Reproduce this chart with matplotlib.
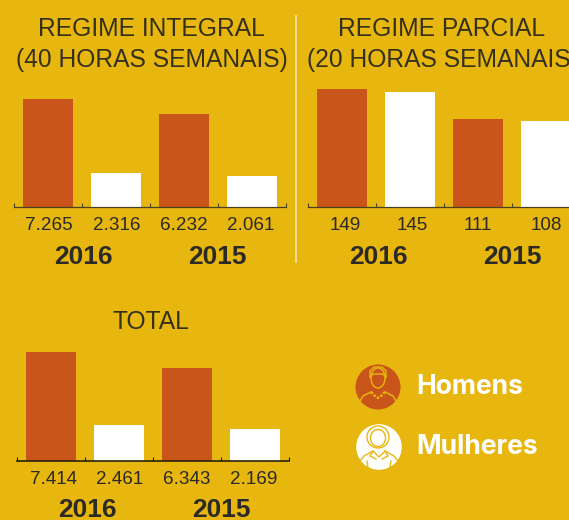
import matplotlib
matplotlib.use('Agg')
import matplotlib.pyplot as plt
from matplotlib.patches import Circle, Ellipse, Polygon

W, H = 569, 520
BG = '#E8B70F'
ORANGE = '#C9551B'
DARK = '#2B2A26'
LINE = '#4a4020'

plt.rcParams['font.family'] = ['Liberation Sans', 'DejaVu Sans']

# values
categories = ['Homens 2016', 'Mulheres 2016', 'Homens 2015', 'Mulheres 2015']
integral_values = [7265, 2316, 6232, 2061]
integral_labels = ['7.265', '2.316', '6.232', '2.061']
parcial_values = [149, 145, 111, 108]
parcial_labels = ['149', '145', '111', '108']
total_values = [7414, 2461, 6343, 2169]
total_labels = ['7.414', '2.461', '6.343', '2.169']
years = ['2016', '2015']
bar_colors = [ORANGE, 'white', ORANGE, 'white']

fig = plt.figure(figsize=(W / 100, H / 100), dpi=100, facecolor=BG)

# page level axes in pixels, for titles, divider and legend
page = fig.add_axes([0, 0, 1, 1])
page.set_xlim(0, W)
page.set_ylim(H, 0)
page.axis('off')


def panel(left, baseline, values, labels, first_px, label_xs, year_xs, label_y, year_y, axis_color, axis_lw):
    # 4 slots of 68 px each, y scale fixed by the height of the first bar
    ax = fig.add_axes([left / W, 1 - baseline / H, 272 / W, first_px / H])
    ax.patch.set_alpha(0)
    ax.bar(range(4), values, width=50 / 68, color=bar_colors, zorder=1)
    ax.set_xlim(-0.5, 3.5)
    ax.set_ylim(0, values[0])
    for s in ['top', 'left', 'right']:
        ax.spines[s].set_visible(False)
    ax.spines['bottom'].set_color(axis_color)
    ax.spines['bottom'].set_linewidth(axis_lw)
    ax.spines['bottom'].set_zorder(3)
    ax.set_yticks([])
    ax.set_xticks([-0.5, 0.5, 1.5, 2.5, 3.5])
    ax.set_xticklabels([])
    ax.tick_params(axis='x', direction='in', length=3, width=0.8, color=axis_color)

    for x, lab in zip(label_xs, labels):
        page.text(x, label_y, lab, ha='center', va='center', fontsize=13.6, color=DARK)
    for x, year in zip(year_xs, years):
        page.text(x, year_y, year, ha='center', va='center', fontsize=19, fontweight='bold', color=DARK)


def title(x, y, text):
    page.text(x, y, text, ha='center', va='center', fontsize=17.7, color='#35301c')


panel(14.4, 207, integral_values, integral_labels, 108,
      [49, 117, 184, 251], [83, 217], 226, 257, LINE, 0.9)
panel(307.5, 207, parcial_values, parcial_labels, 118,
      [345, 412, 478, 546], [378, 512], 226, 257, LINE, 0.9)
panel(16.9, 461, total_values, total_labels, 109,
      [54, 120, 187, 254], [87, 221], 480, 510, '#26210f', 1.2)

title(151.5, 29.5, 'REGIME INTEGRAL')
title(151.5, 59.5, '(40 HORAS SEMANAIS)')
title(442, 29.5, 'REGIME PARCIAL')
title(442.5, 59.5, '(20 HORAS SEMANAIS)')
title(151, 322, 'TOTAL')

# divider between the two top panels
page.plot([296, 296], [16, 262], color='#F6E6A6', lw=1.2)


def man_icon(cx, cy, r):
    line = dict(fill=False, edgecolor=BG, linewidth=1.0)
    page.add_patch(Circle((cx, cy), r, facecolor=ORANGE, edgecolor='none'))
    page.add_patch(Ellipse((cx, cy - 9), 14, 20, **line))
    page.add_patch(Polygon([(cx - 8, cy - 9), (cx - 8, cy - 16), (cx - 4, cy - 20), (cx + 4, cy - 20),
                            (cx + 8, cy - 16), (cx + 8, cy - 9), (cx + 5, cy - 13), (cx - 5, cy - 13)],
                           closed=True, **line))
    page.plot([cx - 18, cx - 15, cx - 7], [cy + 14, cy + 9, cy + 5], color=BG, lw=1.1)
    page.plot([cx + 18, cx + 15, cx + 7], [cy + 14, cy + 9, cy + 5], color=BG, lw=1.1)
    page.plot([cx - 7, cx - 3, cx, cx + 3, cx + 7], [cy + 5, cy + 9, cy + 11, cy + 9, cy + 5],
              color=BG, lw=1.8, ls=(0, (1, 0.6)))


def woman_icon(cx, cy, r):
    line = dict(fill=False, edgecolor=BG, linewidth=1.0)
    page.add_patch(Circle((cx, cy), r, facecolor='white', edgecolor='none'))
    page.add_patch(Ellipse((cx - 1, cy - 10), 22, 22, **line))
    page.add_patch(Ellipse((cx - 1, cy - 9), 15, 17, **line))
    page.plot([cx - 19, cx - 15, cx - 6, cx, cx + 6, cx + 15, cx + 19],
              [cy + 14, cy + 9, cy + 4, cy + 10, cy + 4, cy + 9, cy + 14], color=BG, lw=1.0)
    page.plot([cx - 6, cx - 9, cx - 3], [cy + 4, cy + 9, cy + 12], color=BG, lw=1.0)
    page.plot([cx + 6, cx + 9, cx + 3], [cy + 4, cy + 9, cy + 12], color=BG, lw=1.0)
    page.plot([cx - 12, cx - 11], [cy + 14, cy + 21], color=BG, lw=1.0)
    page.plot([cx + 12, cx + 11], [cy + 14, cy + 21], color=BG, lw=1.0)


man_icon(378, 387, 22.5)
woman_icon(379, 447, 22.8)
page.text(416, 387.5, 'Homens', ha='left', va='center', fontsize=19, fontweight='bold',
          color='white', family='Inter')
page.text(416, 447.5, 'Mulheres', ha='left', va='center', fontsize=19, fontweight='bold',
          color='white', family='Inter')

fig.savefig('out.png', dpi=100, facecolor=BG)
